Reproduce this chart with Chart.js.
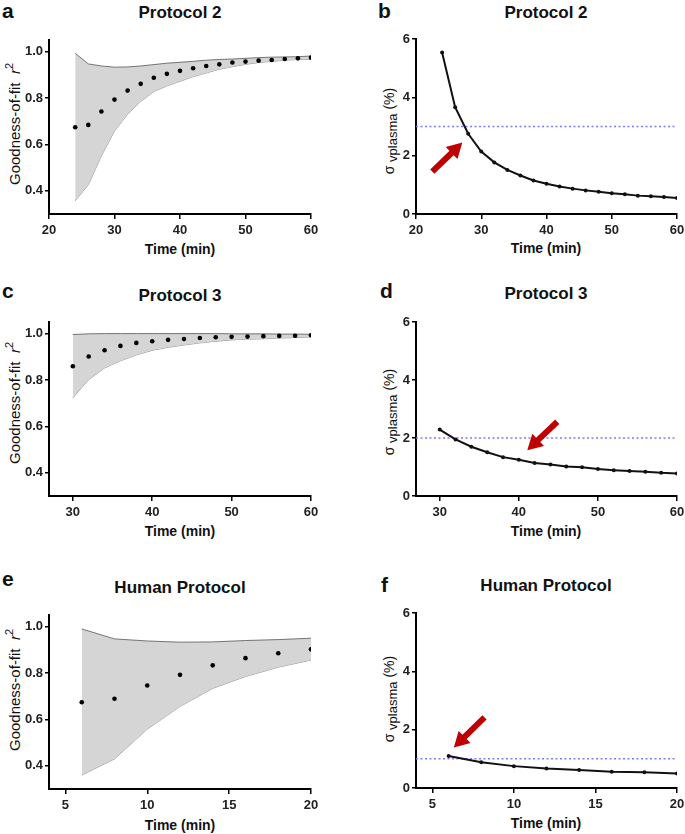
<!DOCTYPE html>
<html><head><meta charset="utf-8">
<script src="https://cdn.jsdelivr.net/npm/chart.js@4.4.0/dist/chart.umd.min.js"></script>
<style>
body{margin:0;background:#fff;width:685px;height:834px;position:relative;overflow:hidden;font-family:"Liberation Sans",Arial,sans-serif;color:#111;}
canvas{position:absolute;}
.t{position:absolute;transform:translate(-50%,-50%);white-space:nowrap;line-height:1;}
.title{font-size:17px;font-weight:bold;}
.xt{font-size:14px;font-weight:bold;}
.yt{position:absolute;transform:translate(-50%,-50%) rotate(-90deg);white-space:nowrap;line-height:1;font-size:15px;}
.ys{position:absolute;transform:translate(-50%,-50%) rotate(-90deg);white-space:nowrap;line-height:1;font-size:14px;}
.ys sub{font-size:13px;vertical-align:-3px;}
.yt sup{font-size:11px;vertical-align:7px;}
.let{position:absolute;font-size:21px;font-weight:bold;line-height:1;}
</style></head><body>
<div class="let" style="left:2px;top:0px">a</div>
<div class="let" style="left:378px;top:0px">b</div>
<div class="let" style="left:2px;top:280px">c</div>
<div class="let" style="left:380px;top:280px">d</div>
<div class="let" style="left:2px;top:568px">e</div>
<div class="let" style="left:381px;top:574px">f</div>

<div class="t title" style="left:180px;top:12px">Protocol 2</div>
<div class="t title" style="left:546px;top:12px">Protocol 2</div>
<div class="t title" style="left:180px;top:295px">Protocol 3</div>
<div class="t title" style="left:546px;top:293px">Protocol 3</div>
<div class="t title" style="left:180px;top:587px">Human Protocol</div>
<div class="t title" style="left:546px;top:585px">Human Protocol</div>

<div class="t xt" style="left:180px;top:249px">Time (min)</div>
<div class="t xt" style="left:546px;top:248px">Time (min)</div>
<div class="t xt" style="left:180px;top:531px">Time (min)</div>
<div class="t xt" style="left:546px;top:531px">Time (min)</div>
<div class="t xt" style="left:180px;top:825px">Time (min)</div>
<div class="t xt" style="left:546px;top:823px">Time (min)</div>

<div class="yt" style="left:13px;top:124px">Goodness-of-fit&nbsp;&nbsp;<i>r</i><sup>2</sup></div>
<div class="yt" style="left:13px;top:403px">Goodness-of-fit&nbsp;&nbsp;<i>r</i><sup>2</sup></div>
<div class="yt" style="left:13px;top:690px">Goodness-of-fit&nbsp;&nbsp;<i>r</i><sup>2</sup></div>
<div class="ys" style="left:390px;top:131px">σ<sub>&nbsp;vplasma</sub> (%)</div>
<div class="ys" style="left:390px;top:412px">σ<sub>&nbsp;vplasma</sub> (%)</div>
<div class="ys" style="left:390px;top:699px">σ<sub>&nbsp;vplasma</sub> (%)</div>

<script>
// ---------- data ----------
const timeP2 = [24,26,28,30,32,34,36,38,40,42,44,46,48,50,52,54,56,58,60];
const r2MeanP2 = [0.674,0.684,0.742,0.793,0.832,0.861,0.887,0.904,0.917,0.928,0.938,0.945,0.953,0.957,0.961,0.964,0.968,0.971,0.974];
const r2UpperP2 = [0.993,0.947,0.938,0.933,0.934,0.938,0.944,0.950,0.954,0.958,0.963,0.966,0.968,0.971,0.974,0.976,0.977,0.978,0.981];
const r2LowerP2 = [0.357,0.426,0.551,0.658,0.730,0.785,0.828,0.852,0.872,0.892,0.908,0.924,0.935,0.945,0.953,0.958,0.963,0.966,0.967];
const sigmaP2 = [5.54,3.66,2.75,2.14,1.77,1.51,1.32,1.15,1.04,0.94,0.87,0.81,0.76,0.71,0.68,0.63,0.61,0.58,0.55];

const timeP3 = [30,32,34,36,38,40,42,44,46,48,50,52,54,56,58,60];
const r2MeanP3 = [0.859,0.901,0.928,0.947,0.960,0.967,0.973,0.977,0.981,0.984,0.986,0.987,0.989,0.990,0.991,0.993];
const r2UpperP3 = [0.996,0.999,1.0,1.0,1.0,1.0,1.0,1.0,1.0,1.0,0.999,0.999,0.999,0.998,0.998,0.997];
const r2LowerP3 = [0.723,0.802,0.852,0.883,0.908,0.928,0.941,0.951,0.960,0.967,0.973,0.976,0.978,0.981,0.983,0.986];
const sigmaP3 = [2.29,1.95,1.70,1.51,1.34,1.25,1.14,1.09,1.02,0.99,0.93,0.89,0.86,0.84,0.80,0.78];

const timeHuman = [6,8,10,12,14,16,18,20];
const r2MeanHuman = [0.674,0.689,0.746,0.792,0.833,0.864,0.885,0.902];
const r2UpperHuman = [0.990,0.947,0.938,0.933,0.934,0.940,0.944,0.950];
const r2LowerHuman = [0.360,0.430,0.558,0.656,0.734,0.785,0.825,0.856];
const sigmaHuman = [1.10,0.88,0.75,0.67,0.62,0.56,0.54,0.50];

const thresholdP2 = 3, thresholdP3 = 2, thresholdHuman = 1;

const xTicksP2 = [20,30,40,50,60];
const xTicksP3 = [30,40,50,60];
const xTicksHuman = [5,10,15,20];
const r2Ticks = [0.4,0.6,0.8,1.0];
const sigmaTicks = [0,2,4,6];

// ---------- drawing ----------
const FONT = '"Liberation Sans", Arial, sans-serif';
const pts = (xs, ys) => xs.map((x,i)=>({x, y: ys[i]}));

const arrowPlugin = {
  id: 'arrow',
  afterDatasetsDraw(chart, args, opts) {
    if (!opts || !opts.from) return;
    const xs = chart.scales.x, ys = chart.scales.y;
    const x1 = xs.getPixelForValue(opts.from[0]), y1 = ys.getPixelForValue(opts.from[1]);
    const x2 = xs.getPixelForValue(opts.to[0]), y2 = ys.getPixelForValue(opts.to[1]);
    const ang = Math.atan2(y2-y1, x2-x1), len = Math.hypot(x2-x1, y2-y1);
    const hl = 15, hw = 8.5, sw = 3;
    const ctx = chart.ctx;
    ctx.save();
    ctx.translate(x1, y1); ctx.rotate(ang);
    ctx.beginPath();
    ctx.moveTo(0,-sw); ctx.lineTo(len-hl,-sw); ctx.lineTo(len-hl,-hw); ctx.lineTo(len,0);
    ctx.lineTo(len-hl,hw); ctx.lineTo(len-hl,sw); ctx.lineTo(0,sw); ctx.closePath();
    ctx.fillStyle = '#c00000'; ctx.fill();
    ctx.restore();
  }
};
Chart.register(arrowPlugin);

const PADL = 45, PADT = 10, PADR = 12, PADB = 30;

function axis(min, max, ticks, fmt, isX) {
  return {
    type: 'linear', min, max,
    afterBuildTicks: s => { s.ticks = ticks.map(v => ({value: v})); },
    afterFit: s => { if (isX) s.height = PADB; else s.width = PADL; },
    grid: {display: true, drawOnChartArea: false, drawTicks: true, tickLength: isX ? 5 : 4, color: '#000', lineWidth: 1.5},
    border: {display: true, color: '#000', width: 2},
    ticks: {padding: isX ? 4 : 2, color: '#222', autoSkip: false, maxRotation: 0,
            font: {family: FONT, size: 13, weight: 'bold'}, callback: fmt}
  };
}

function panel(area, x, y, datasets, arrow) {
  const c = document.createElement('canvas');
  const W = area.R - area.L + PADL + PADR, H = area.B - area.T + PADT + PADB;
  c.width = W; c.height = H;
  c.style.left = (area.L - PADL) + 'px'; c.style.top = (area.T - PADT) + 'px';
  c.style.width = W + 'px'; c.style.height = H + 'px';
  document.body.appendChild(c);
  new Chart(c, {
    type: 'line',
    data: {datasets},
    options: {
      responsive: false, animation: false, devicePixelRatio: 1,
      layout: {padding: {left: 0, top: PADT, right: PADR, bottom: 0}},
      plugins: {legend: {display: false}, tooltip: {enabled: false}, arrow: arrow || false},
      scales: {x: axis(x.min, x.max, x.ticks, v => String(v), true),
               y: axis(y.min, y.max, y.ticks, y.fmt, false)}
    }
  });
}

function r2Sets(t, mean, up, lo) {
  return [
    {data: pts(t, mean), showLine: false, pointRadius: 2.3, pointBackgroundColor: '#000', pointBorderWidth: 0, order: 0},
    {data: pts(t, lo), borderColor: '#777', borderWidth: 0.8, pointRadius: 0, fill: false, tension: 0, order: 2},
    {data: pts(t, up), borderColor: '#555', borderWidth: 0.8, pointRadius: 0, fill: '-1', backgroundColor: '#d5d5d5', tension: 0, order: 1}
  ];
}
function sigmaSets(t, s, th, xmin, xmax) {
  return [
    {data: pts(t, s), borderColor: '#111', borderWidth: 2, pointRadius: 2, pointBackgroundColor: '#111', pointBorderWidth: 0, tension: 0, order: 0},
    {data: [{x: xmin, y: th}, {x: xmax, y: th}], borderColor: '#7b7bff', borderWidth: 1.5, borderDash: [2, 2.5], pointRadius: 0, order: 1}
  ];
}

const r2Y = {min: 0.3, max: 1.05, ticks: r2Ticks, fmt: v => v.toFixed(1)};
const sgY = {min: 0, max: 6, ticks: sigmaTicks, fmt: v => String(v)};

panel({L:49,R:311,T:40,B:214}, {min:20,max:60,ticks:xTicksP2}, r2Y, r2Sets(timeP2, r2MeanP2, r2UpperP2, r2LowerP2));
panel({L:416,R:677,T:39,B:214}, {min:20,max:60,ticks:xTicksP2}, sgY, sigmaSets(timeP2, sigmaP2, thresholdP2, 20, 60),
      {from:[22.5,1.45], to:[27.1,2.45]});
panel({L:49,R:311,T:322,B:496}, {min:27,max:60,ticks:xTicksP3}, r2Y, r2Sets(timeP3, r2MeanP3, r2UpperP3, r2LowerP3));
panel({L:416,R:677,T:322,B:496}, {min:27,max:60,ticks:xTicksP3}, sgY, sigmaSets(timeP3, sigmaP3, thresholdP3, 27, 60),
      {from:[44.86,2.56], to:[41.07,1.58]});
panel({L:49,R:311,T:615,B:789}, {min:4,max:20,ticks:xTicksHuman}, r2Y, r2Sets(timeHuman, r2MeanHuman, r2UpperHuman, r2LowerHuman));
panel({L:416,R:677,T:613,B:788}, {min:4,max:20,ticks:xTicksHuman}, sgY, sigmaSets(timeHuman, sigmaHuman, thresholdHuman, 4, 20),
      {from:[8.2,2.42], to:[6.32,1.39]});
</script>
</body></html>
